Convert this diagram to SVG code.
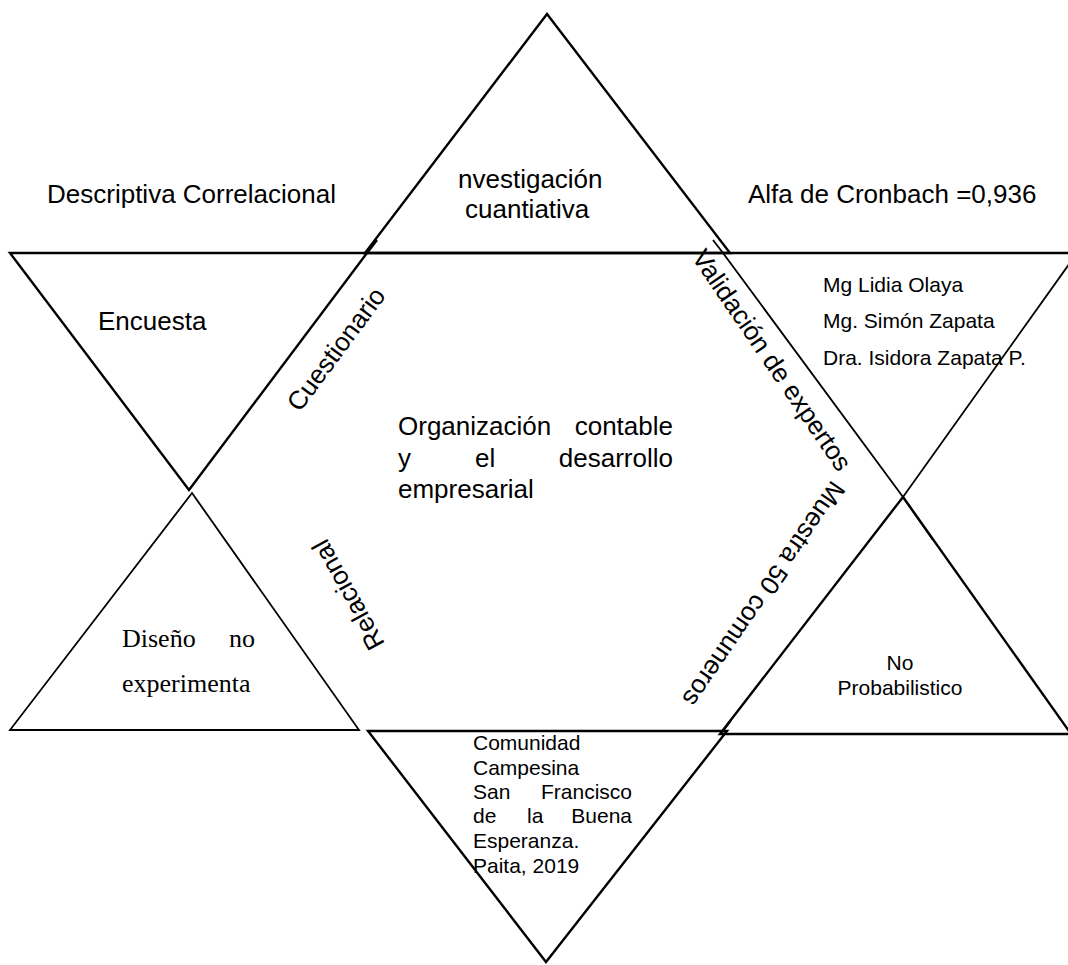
<svg xmlns="http://www.w3.org/2000/svg" width="1068" height="965" viewBox="0 0 1068 965">
  <style>
    .tri { fill: none; stroke: #000; stroke-width: 2.4; stroke-linejoin: miter; }
    .thin { stroke-width: 1.8; }
    text { font-family: "Liberation Sans", Arial, sans-serif; fill: #000; }
    .big { font-size: 26px; }
    .small { font-size: 21px; }
    .serif { font-family: "Liberation Serif", "Times New Roman", serif; font-size: 26px; }
  </style>
  <rect x="0" y="0" width="1068" height="965" fill="#fff"/>

  <g id="outer-labels">
    <text class="big" x="47" y="203">Descriptiva Correlacional</text>
    <text class="big" x="748" y="203">Alfa de Cronbach =0,936</text>
  </g>

  <g id="top-triangle">
    <polygon class="tri" points="547,14 730,253 365,253"/>
    <text class="big" x="458" y="188">nvestigación</text>
    <text class="big" x="465" y="218">cuantiativa</text>
  </g>

  <g id="encuesta-triangle">
    <polygon class="tri" points="10,253 367,253 189,490"/>
    <line class="tri" x1="367" y1="253" x2="377" y2="240"/>
    <text class="big" x="98" y="330">Encuesta</text>
  </g>

  <g id="expertos-triangle">
    <polygon class="tri thin" points="723,253 1077,253 903,497"/>
    <line class="tri" x1="365" y1="253" x2="1068" y2="253"/>
    <line class="tri thin" x1="723" y1="253" x2="713" y2="240"/>
    <text class="small" x="823" y="292">Mg Lidia Olaya</text>
    <text class="small" x="823" y="328">Mg. Simón Zapata</text>
    <text class="small" x="823" y="365">Dra. Isidora Zapata P.</text>
  </g>

  <g id="probabilistico-triangle">
    <polygon class="tri" points="903,497 1071,734 720,734"/>
    <line class="tri thin" x1="903" y1="497" x2="933" y2="540"/>
    <text class="small" x="900" y="670" text-anchor="middle">No</text>
    <text class="small" x="900" y="695" text-anchor="middle">Probabilistico</text>
  </g>

  <g id="comunidad-triangle">
    <polygon class="tri" points="368,731 727,731 546,962"/>
    <line class="tri" x1="722" y1="732" x2="731" y2="720"/>
    <text class="small" x="473" y="750">Comunidad</text>
    <text class="small" x="473" y="775">Campesina</text>
    <text class="small" x="473" y="799">San</text>
    <text class="small" x="632" y="799" text-anchor="end">Francisco</text>
    <text class="small" x="473" y="823">de</text>
    <text class="small" x="527" y="823">la</text>
    <text class="small" x="632" y="823" text-anchor="end">Buena</text>
    <text class="small" x="473" y="848">Esperanza.</text>
    <text class="small" x="473" y="873">Paita, 2019</text>
  </g>

  <g id="diseno-triangle">
    <polygon class="tri thin" points="192,493 359,730 10,730"/>
    <text class="serif" x="122" y="647">Diseño</text>
    <text class="serif" x="255" y="647" text-anchor="end">no</text>
    <text class="serif" x="122" y="692">experimenta</text>
  </g>

  <g id="center-node">
    <text class="big" x="398" y="435">Organización</text>
    <text class="big" x="673" y="435" text-anchor="end">contable</text>
    <text class="big" x="398" y="467">y</text>
    <text class="big" x="475" y="467">el</text>
    <text class="big" x="673" y="467" text-anchor="end">desarrollo</text>
    <text class="big" x="398" y="498">empresarial</text>
  </g>

  <g id="side-labels">
    <text class="big" transform="translate(336,349) rotate(-53.4)" x="0" y="9" text-anchor="middle">Cuestionario</text>
    <text class="big" transform="translate(772,360) rotate(55.7)" x="0" y="9" text-anchor="middle">Validación de expertos</text>
    <text class="big" transform="translate(764,594) rotate(124.4)" x="0" y="9" text-anchor="middle">Muestra 50 comuneros</text>
    <text class="big" transform="translate(348,595) rotate(-119)" x="0" y="9" text-anchor="middle">Relacional</text>
  </g>
</svg>
